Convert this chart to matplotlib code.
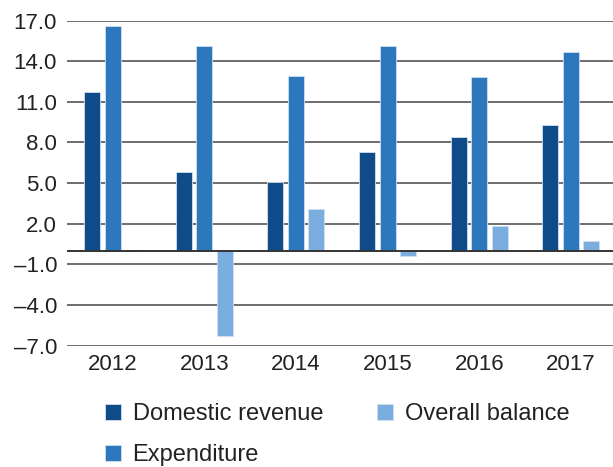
import numpy as np
import matplotlib
matplotlib.use('Agg')
import matplotlib.pyplot as plt

years = ['2012', '2013', '2014', '2015', '2016', '2017']
domestic_revenue = [11.7, 5.8, 5.1, 7.3, 8.4, 9.3]
expenditure = [16.6, 15.1, 12.9, 15.1, 12.8, 14.7]
overall_balance = [0.0, -6.3, 3.1, -0.4, 1.8, 0.7]
yticks = [-7, -4, -1, 2, 5, 8, 11, 14, 17]

plt.rcParams['font.family'] = ['Liberation Sans', 'DejaVu Sans']

fig = plt.figure(figsize=(6.13, 4.67), dpi=100)
ax = fig.add_axes([0.109, 0.26, 0.891, 0.696])

x = np.arange(len(years))
w = 0.175
step = 0.224
series = [
    (domestic_revenue, '#0f4b88', 'Domestic revenue'),
    (expenditure, '#2d77bd', 'Expenditure'),
    (overall_balance, '#7badde', 'Overall balance'),
]
for i, (vals, col, lab) in enumerate(series):
    ax.bar(x + (i - 1) * step, vals, width=w, color=col, label=lab,
           edgecolor='#cfe0f2', linewidth=0.6, zorder=3)

ax.set_ylim(-7, 17)
ax.set_xlim(-0.5, len(years) - 0.54)
ax.set_yticks(yticks)
ax.set_yticklabels(['{:.1f}'.format(v).replace('-', '\u2013') for v in yticks])
ax.set_xticks(x)
ax.set_xticklabels(years)
for v in yticks:
    ax.axhline(v, color='#555555', lw=1.2, zorder=1)
ax.axhline(0, color='#333333', lw=1.4, zorder=4)

for s in ax.spines.values():
    s.set_visible(False)
ax.tick_params(length=0, labelsize=16, colors='#222222')
ax.tick_params(axis='y', pad=7)
ax.tick_params(axis='x', pad=6)

leg = fig.legend(loc='upper left', bbox_to_anchor=(0.172, 0.136), ncol=2,
                 frameon=False, fontsize=17, handlelength=0.65, handleheight=0.65,
                 handletextpad=0.5, columnspacing=2.3, labelspacing=0.8,
                 borderaxespad=0, borderpad=0)
for t in leg.get_texts():
    t.set_color('#222222')

fig.savefig('out.png', dpi=100)
